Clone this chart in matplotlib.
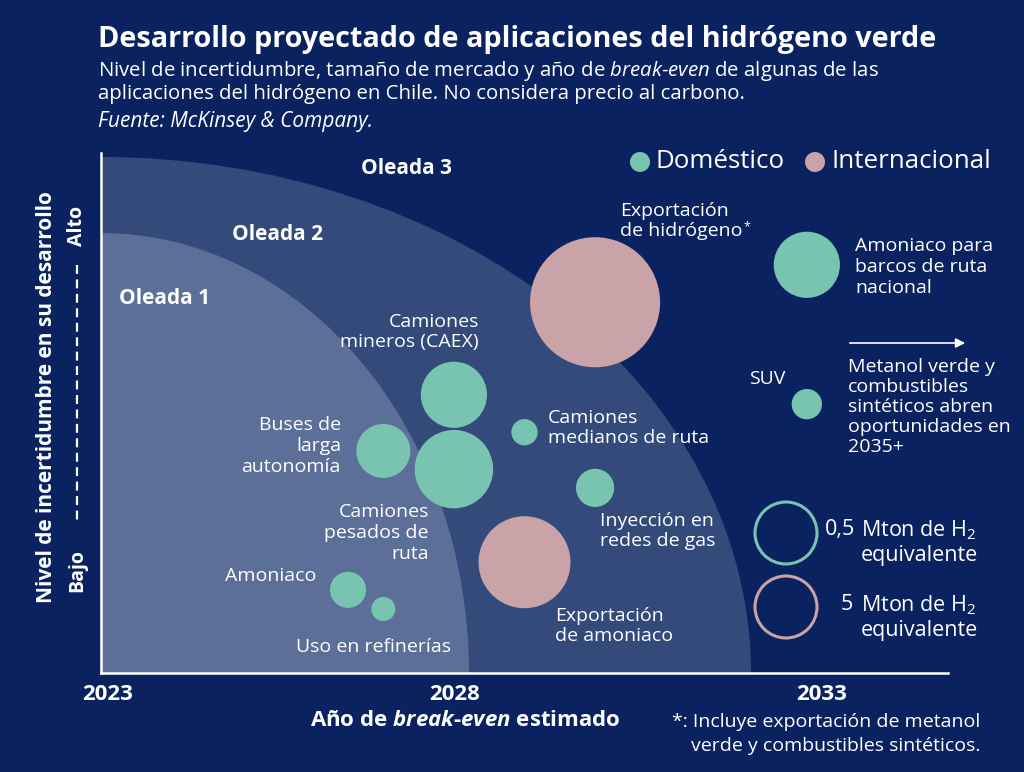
import matplotlib
matplotlib.use("Agg")
import matplotlib.pyplot as plt
from matplotlib.patches import Ellipse
from matplotlib.transforms import ScaledTranslation
import numpy as np

# --- datos ---
aplicaciones = ["Exportación de hidrógeno", "Amoniaco para barcos de ruta nacional", "SUV",
                "Camiones mineros (CAEX)", "Buses de larga autonomía", "Camiones pesados de ruta",
                "Camiones medianos de ruta", "Inyección en redes de gas", "Exportación de amoniaco",
                "Amoniaco", "Uso en refinerías"]
anio_break_even = [2030, 2033, 2033, 2028, 2027, 2028, 2029, 2030, 2029, 2026.5, 2027]
incertidumbre = [7.13, 7.85, 5.17, 5.35, 4.27, 3.92, 4.63, 3.56, 2.13, 1.6, 1.23]
mercado_mton = [22, 0.57, 0.12, 0.57, 0.38, 0.8, 0.09, 0.19, 11, 0.17, 0.075]
mercado = ["Internacional", "Doméstico", "Doméstico", "Doméstico", "Doméstico", "Doméstico",
           "Doméstico", "Doméstico", "Internacional", "Doméstico", "Doméstico"]
ref_mton = {"Doméstico": 0.5, "Internacional": 5}
anios_eje = [2023, 2028, 2033]

BG = "#0a2360"
OLA1 = "#5c6f98"
OLA2 = "#344a7b"
VERDE = "#78c4b1"
ROSA = "#c9a3a8"
colores = {"Doméstico": VERDE, "Internacional": ROSA}

FONT = "Open Sans"
plt.rcParams["font.family"] = [FONT, "DejaVu Sans"]
plt.rcParams["mathtext.fontset"] = "custom"
plt.rcParams["mathtext.rm"] = FONT
plt.rcParams["mathtext.it"] = FONT + ":italic"
plt.rcParams["mathtext.bf"] = FONT + ":bold"
plt.rcParams["mathtext.bfit"] = FONT + ":italic:bold"

W, H, DPI = 1024, 772, 100
fig = plt.figure(figsize=(W / DPI, H / DPI), dpi=DPI, facecolor=BG)

# ejes principales (pixeles: x 101-948, y 153-673)
ax = fig.add_axes([101 / W, 1 - 673 / H, 847 / W, 520 / H])
ax.set_facecolor(BG)
ax.set_xlim(2023, 2035)
ax.set_ylim(0, 10)
px_x = 847 / 12.0
px_y = 52.0

# oleadas (cuartos de elipse desde el origen)
ax.add_patch(Ellipse((2023, 0), 2 * 650 / px_x, 2 * 516 / px_y, color=OLA2, zorder=0, lw=0))
ax.add_patch(Ellipse((2023, 0), 2 * 368 / px_x, 2 * 440 / px_y, color=OLA1, zorder=1, lw=0))

def diam_pts(v, tipo):
    d_px = 62 * np.sqrt(v / ref_mton[tipo])
    return d_px * 72.0 / DPI

sizes = [diam_pts(v, t) ** 2 for v, t in zip(mercado_mton, mercado)]
cols = [colores[t] for t in mercado]
ax.scatter(anio_break_even, incertidumbre, s=sizes, c=cols, linewidths=0, zorder=3, clip_on=False)

for s in ["top", "right"]:
    ax.spines[s].set_visible(False)
for s in ["left", "bottom"]:
    ax.spines[s].set_color("white")
    ax.spines[s].set_linewidth(1.8)
ax.set_yticks([])
ax.set_xticks(anios_eje)
ax.set_xticklabels([str(a) for a in anios_eje], fontsize=16, fontweight="bold", color="white")
ax.tick_params(axis="x", length=0, pad=8)
# pequeño corrimiento de las etiquetas de los extremos, como en el original
for lab, dx in zip(ax.get_xticklabels(), [7, 1, 15]):
    lab.set_transform(lab.get_transform() + ScaledTranslation(dx / DPI, 0, fig.dpi_scale_trans))

# capa de textos en pixeles
ov = fig.add_axes([0, 0, 1, 1])
ov.set_xlim(0, W)
ov.set_ylim(H, 0)
ov.axis("off")

def t(x, y, s, size=14, ha="left", va="center", **kw):
    kw.setdefault("color", "white")
    kw.setdefault("linespacing", 1.2)
    ov.text(x, y, s, fontsize=size, ha=ha, va=va, **kw)

t(98, 40, "Desarrollo proyectado de aplicaciones del hidrógeno verde", size=20.8, fontweight="bold")
t(98, 71, r"Nivel de incertidumbre, tamaño de mercado y año de $\mathit{break}$-$\mathit{even}$ de algunas de las", size=14.7)
t(98, 94, "aplicaciones del hidrógeno en Chile. No considera precio al carbono.", size=14.7)
t(98, 122, "Fuente: McKinsey & Company.", size=15, style="italic")

# oleadas
t(165, 299, "Oleada 1", size=15, ha="center", fontweight="bold")
t(278, 234, "Oleada 2", size=15, ha="center", fontweight="bold")
t(406, 168, "Oleada 3", size=15, ha="center", fontweight="bold")

# leyenda de colores
ov.scatter([640, 815], [162, 162], s=(20 * 0.72) ** 2, c=[VERDE, ROSA], linewidths=0)
t(656, 162, "Doméstico", size=18.6)
t(831, 162, "Internacional", size=18.6)

# etiquetas de burbujas
t(620, 221, "Exportación\nde hidrógeno")
t(743, 227, "*", size=9)
t(855, 267, "Amoniaco para\nbarcos de ruta\nnacional")
t(785, 379, "SUV", ha="right")
t(479, 332, "Camiones\nmineros (CAEX)", ha="right", multialignment="right")
t(341, 446, "Buses de\nlarga\nautonomía", ha="right", multialignment="right")
t(548, 428, "Camiones\nmedianos de ruta")
t(429, 533, "Camiones\npesados de\nruta", ha="right", multialignment="right")
t(600, 531, "Inyección en\nredes de gas")
t(316, 576, "Amoniaco", ha="right")
t(451, 647, "Uso en refinerías", ha="right")
t(555, 626, "Exportación\nde amoniaco")

ov.annotate("", xy=(968, 343), xytext=(847, 343),
            arrowprops=dict(arrowstyle="-|>", color="white", lw=1.2, mutation_scale=14))
t(848, 407, "Metanol verde y\ncombustibles\nsintéticos abren\noportunidades en\n2035+", linespacing=1.15)

# leyenda de tamaños
ov.scatter([786], [533], s=(62 * 0.72) ** 2, facecolors="none", edgecolors=VERDE, linewidths=2.2)
ov.scatter([786], [607], s=(62 * 0.72) ** 2, facecolors="none", edgecolors=ROSA, linewidths=2.2)
t(855, 529, "0,5", size=15.5, ha="right")
t(861, 542, "Mton de H$_2$\nequivalente", size=15.5)
t(853, 604, "5", size=15.5, ha="right")
t(861, 617, "Mton de H$_2$\nequivalente", size=15.5)

# ejes: titulos
t(47, 397, "Nivel de incertidumbre en su desarrollo", size=15, ha="center", rotation=90, fontweight="bold")
t(77, 226, "Alto", size=14, ha="center", rotation=90, fontweight="bold")
t(77, 570, "Bajo", size=14, ha="center", rotation=90, fontweight="bold")
ov.plot([77, 77], [265, 525], color="white", lw=1.6, dashes=(4, 2.5))
t(465, 720, r"Año de $\mathbfit{break}$-$\mathbfit{even}$ estimado", size=16, ha="center", fontweight="bold")

t(980, 722, "*: Incluye exportación de metanol", size=14, ha="right")
t(980, 746, "verde y combustibles sintéticos.", size=14, ha="right")

fig.savefig("out.png", dpi=DPI, facecolor=BG)
